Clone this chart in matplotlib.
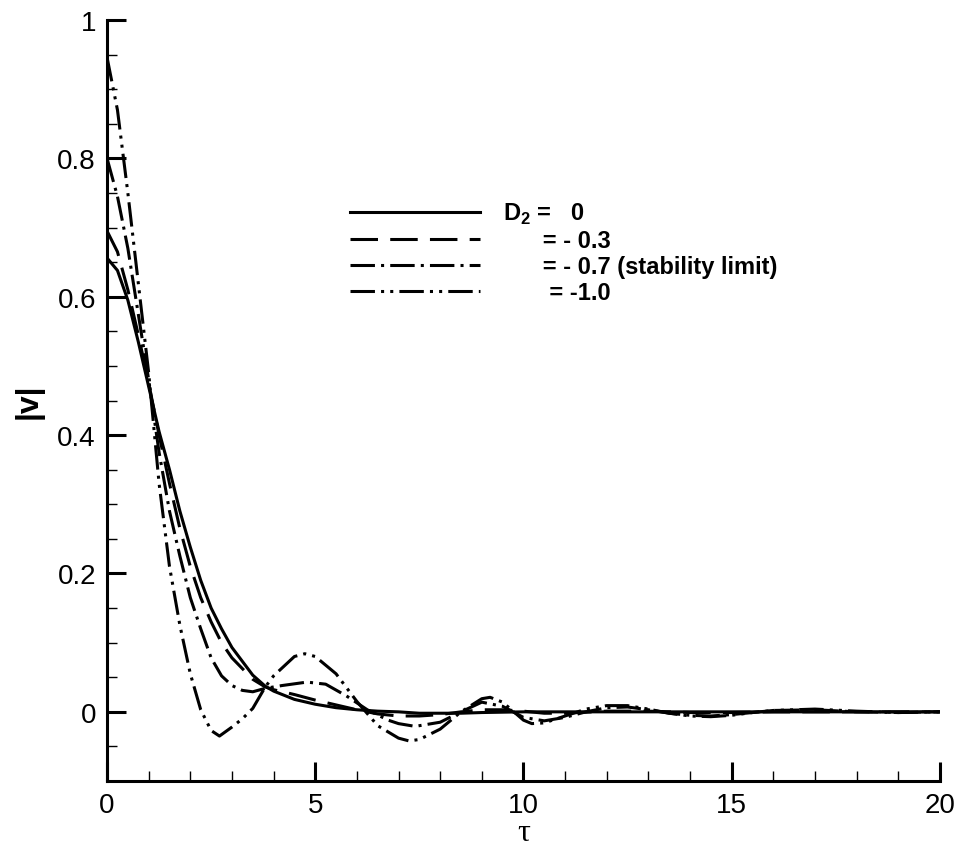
import numpy as np
import matplotlib.pyplot as plt
from matplotlib.lines import Line2D
from matplotlib.ticker import MultipleLocator

plt.rcParams['font.family'] = ['Liberation Sans', 'DejaVu Sans']
plt.rcParams['mathtext.fontset'] = 'custom'
plt.rcParams['mathtext.bf'] = 'Liberation Sans:bold'
plt.rcParams['mathtext.rm'] = 'Liberation Sans'

# tau values and |v| for each D2
tau_0 = [0, 0.25, 0.5, 0.75, 1.0, 1.25, 1.5, 1.75, 2.0, 2.25, 2.5, 2.75, 3.0, 3.5,
         3.8, 4.0, 4.5, 5.0, 5.5, 6.0, 6.5, 7.0, 7.5, 8.0, 8.5, 9.0, 10.0, 12.0,
         14.0, 16.0, 18.0, 20.0]
v_0 = [0.656, 0.638, 0.595, 0.535, 0.47, 0.405, 0.35, 0.29, 0.238, 0.19, 0.15,
       0.12, 0.093, 0.053, 0.037, 0.03, 0.018, 0.011, 0.006, 0.003, 0.001, 0.0,
       -0.002, -0.002, -0.002, -0.001, 0.0, 0.0, 0.0, 0.0, 0.0, 0.0]

tau_03 = [0, 0.25, 0.5, 0.75, 1.0, 1.25, 1.5, 1.75, 2.0, 2.25, 2.5, 2.75, 3.0,
          3.5, 3.8, 4.0, 4.5, 5.0, 5.5, 6.0, 6.5, 7.0, 7.5, 8.0, 8.5, 9.0, 9.5,
          10.0, 10.5, 11.0, 12.0, 13.0, 14.0, 15.0, 16.0, 18.0, 20.0]
v_03 = [0.695, 0.665, 0.61, 0.545, 0.475, 0.4, 0.33, 0.265, 0.21, 0.165, 0.13,
        0.1, 0.078, 0.047, 0.036, 0.032, 0.025, 0.017, 0.01, 0.003, -0.003,
        -0.006, -0.006, -0.004, 0.0, 0.003, 0.003, 0.001, -0.002, -0.002, 0.001,
        0.001, -0.001, -0.001, 0.0, 0.0, 0.0]

tau_07 = [0, 0.25, 0.5, 0.75, 1.0, 1.25, 1.5, 1.75, 2.0, 2.25, 2.5, 2.75, 3.0,
          3.25, 3.5, 3.8, 4.2, 4.8, 5.25, 5.75, 6.25, 6.75, 7.0, 7.4, 8.0, 8.5,
          9.0, 9.5, 10.0, 10.5, 11.0, 11.5, 12.0, 12.5, 13.0, 13.5, 14.0, 14.5,
          15.0, 16.0, 17.0, 18.0, 19.0, 20.0]
v_07 = [0.80, 0.745, 0.67, 0.575, 0.48, 0.375, 0.29, 0.225, 0.165, 0.12, 0.078,
        0.052, 0.038, 0.031, 0.029, 0.034, 0.038, 0.043, 0.04, 0.023, 0.003,
        -0.012, -0.017, -0.021, -0.015, 0.0, 0.014, 0.008, -0.008, -0.013,
        -0.008, 0.0, 0.006, 0.007, 0.003, -0.002, -0.005, -0.006, -0.004, 0.002,
        0.003, 0.0, -0.001, 0.0]

tau_10 = [0, 0.25, 0.5, 0.75, 1.0, 1.25, 1.5, 1.75, 2.0, 2.25, 2.5, 2.7, 3.0,
          3.25, 3.5, 3.8, 4.0, 4.5, 4.75, 5.0, 5.5, 6.0, 6.5, 7.0, 7.25, 7.5,
          8.0, 8.5, 9.0, 9.2, 9.5, 10.0, 10.2, 10.5, 11.0, 11.5, 12.0, 12.5,
          13.0, 13.5, 14.0, 14.5, 15.0, 15.5, 16.0, 17.0, 18.0, 19.0, 20.0]
v_10 = [0.946, 0.87, 0.75, 0.62, 0.49, 0.33, 0.21, 0.125, 0.055, 0.003, -0.027,
        -0.035, -0.022, -0.01, 0.005, 0.036, 0.052, 0.08, 0.084, 0.08, 0.055,
        0.015, -0.02, -0.038, -0.042, -0.04, -0.025, 0.0, 0.019, 0.021, 0.014,
        -0.012, -0.017, -0.016, -0.006, 0.004, 0.009, 0.009, 0.004, -0.002,
        -0.006, -0.007, -0.005, -0.001, 0.002, 0.004, 0.001, -0.001, 0.0]

labels = ['D$_\\mathbf{2}$ =   0', '      = - 0.3',
          '      = - 0.7 (stability limit)', '       = -1.0']

styles = ['-', (0, (9, 4)), (0, (8, 2, 1, 2)), (0, (8, 2, 1, 2, 1, 2))]

fig = plt.figure(figsize=(9.6, 8.53), dpi=100)
ax = fig.add_axes([0.1115, 0.0832, 0.8675, 0.8922])

lw = 2.2
ax.plot(tau_0, v_0, color='black', lw=lw, linestyle=styles[0])
ax.plot(tau_03, v_03, color='black', lw=lw, linestyle=styles[1])
ax.plot(tau_07, v_07, color='black', lw=lw, linestyle=styles[2])
ax.plot(tau_10, v_10, color='black', lw=lw, linestyle=styles[3])

ax.set_xlim(0, 20)
ax.set_ylim(-0.1, 1)
ax.xaxis.set_minor_locator(MultipleLocator(1))
ax.yaxis.set_minor_locator(MultipleLocator(0.05))
ax.set_xticks([0, 5, 10, 15, 20])
ax.set_xticklabels(['0', '5', '10', '15', '20'])
ax.set_yticks([0, 0.2, 0.4, 0.6, 0.8, 1.0])
ax.set_yticklabels(['0', '0.2', '0.4', '0.6', '0.8', '1'])

for s in ['top', 'right']:
    ax.spines[s].set_visible(False)
for s in ['left', 'bottom']:
    ax.spines[s].set_linewidth(2.2)

ax.tick_params(which='major', direction='in', length=14, width=2.2,
               labelsize=20, pad=8)
ax.tick_params(which='minor', direction='in', length=7, width=1.0)

ax.set_xlabel('τ', family='Liberation Serif', fontsize=23, labelpad=0)
ax.set_ylabel('|v|', fontsize=23, fontweight='bold', labelpad=10)

handles = [Line2D([], [], color='black', lw=lw, linestyle=st) for st in styles]
leg = ax.legend(handles, labels, loc='upper left', bbox_to_anchor=(0.266, 0.79),
                frameon=False, handlelength=5.5, handletextpad=1.0,
                labelspacing=0.13, prop={'weight': 'bold', 'size': 17})

fig.savefig('out.png', dpi=100)
